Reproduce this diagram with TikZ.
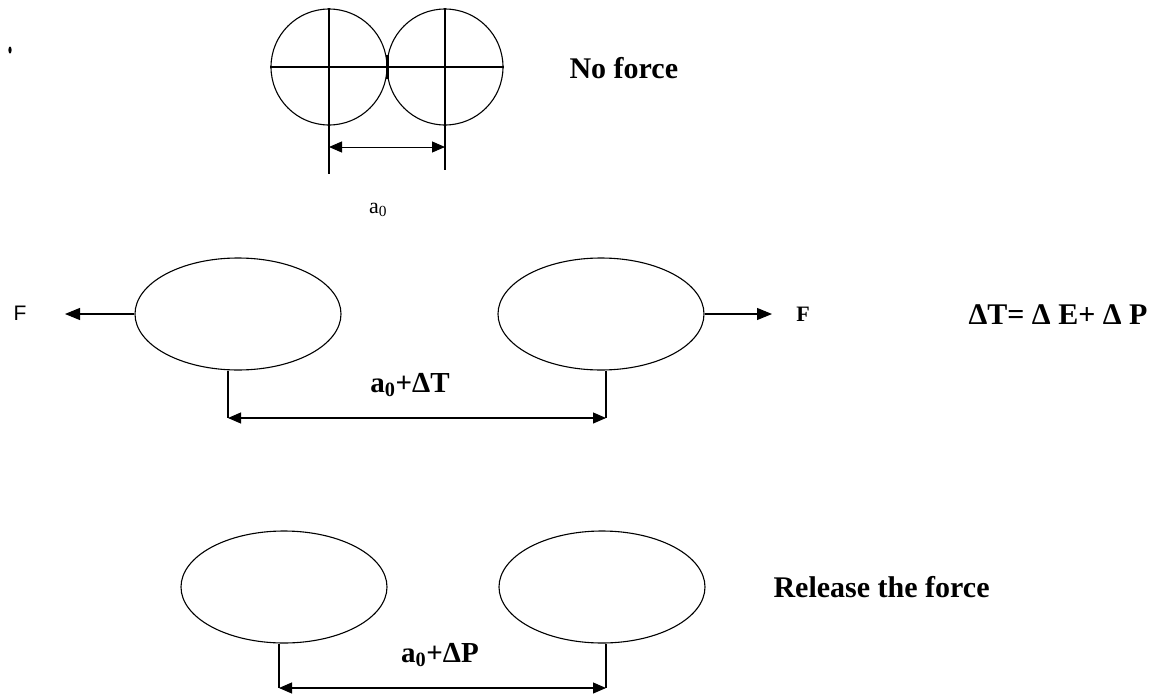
\documentclass[tikz,border=0pt]{standalone}
\usepackage{fontspec}
\setmainfont{Liberation Serif}
\newfontfamily\arialf{Liberation Sans}
\usetikzlibrary{arrows.meta,shapes.geometric}
\begin{document}
\begin{tikzpicture}[x=1pt,y=-1pt, line width=1.1pt,
  tip/.style={-{Triangle[length=15pt,width=12pt]}},
  dimarrow/.style={{Triangle[length=13pt,width=11pt]}-{Triangle[length=13pt,width=11pt]}},
  ball/.style={draw, ellipse, minimum width=206pt, minimum height=112pt, inner sep=0pt},
  atom/.style={draw, circle, minimum size=116pt, inner sep=0pt},
  lbl/.style={font=\bfseries\fontsize{30}{34}\selectfont, inner sep=0pt},
  dimlbl/.style={font=\bfseries\fontsize{29}{32}\selectfont, inner sep=0pt},
]
\useasboundingbox[fill=white] (0,0) rectangle (1152,696);

% stray mark
\fill (10,50) ellipse (1.6 and 3.5);

% ---- no force ----
\node[atom] (C1) at (329,67) {};
\node[atom] (C2) at (445,67) {};
\draw (C1.west) -- (C2.east);
\draw[line width=2.4pt] (C1.west) -- ++(85,0) coordinate (hk);
\draw[line width=2.2pt] ([yshift=-12pt]C1.east) -- ([yshift=12pt]C1.east);
\draw (C1.north) -- (C1.south) -- ++(0,48) coordinate (t1);
\draw (C2.north) -- (C2.south) -- ++(0,44) coordinate (t2);
\coordinate (ty) at (0,147);
\draw[dimarrow, line width=1pt] (t1 |- ty) -- (t2 |- ty);
\node[font=\fontsize{22}{24}\selectfont, inner sep=0pt] (a0) at (378,210) {a\textsubscript{0}};
\node[lbl, anchor=west] (nf) at (569,68) {No force};

% ---- under force ----
\node[ball] (L1) at (238,314) {};
\node[ball] (R1) at (601,314) {};
\node[font=\arialf\fontsize{21}{24}\selectfont, inner sep=0pt] (F1) at (20,313) {F};
\coordinate (f1) at (65,314);
\draw[tip] (L1.west) -- (f1);
\coordinate (f2) at (772,314);
\draw[tip] (R1.east) -- (f2);
\node[font=\bfseries\fontsize{22}{24}\selectfont, inner sep=0pt] (F2) at (803,314) {F};
\node[lbl, anchor=west] (eq) at (968,315) {ΔT= Δ E+ Δ P};

\coordinate (m1) at (228,418);
\coordinate (m2) at (606,418);
\draw (m1 |- L1.south) -- (m1);
\draw (m2 |- R1.south) -- (m2);
\draw[dimarrow] (m1) -- (m2);
\node[dimlbl] (lt) at (410,385) {a\textsubscript{0}+ΔT};

% ---- released ----
\node[ball] (L2) at (284,587) {};
\node[ball] (R2) at (602,587) {};
\coordinate (b1) at (279,688);
\coordinate (b2) at (606,688);
\draw (b1 |- L2.south) -- (b1);
\draw (b2 |- R2.south) -- (b2);
\draw[dimarrow] (b1) -- (b2);
\node[dimlbl] (lp) at (440,655) {a\textsubscript{0}+ΔP};
\node[lbl, anchor=west] (rf) at (773,587) {Release the force};
\end{tikzpicture}
\end{document}
